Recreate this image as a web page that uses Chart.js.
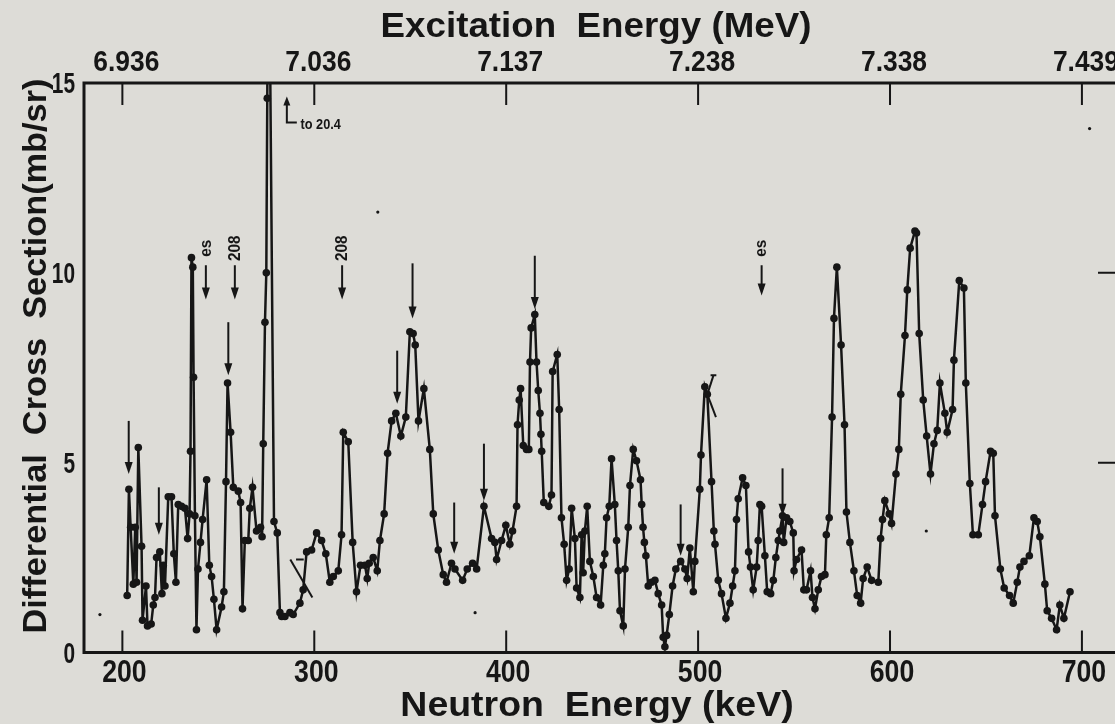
<!DOCTYPE html>
<html><head><meta charset="utf-8">
<script src="https://cdn.jsdelivr.net/npm/chart.js@4.4.0/dist/chart.umd.min.js"></script>
<style>
html,body{margin:0;padding:0;background:#dddcd7;overflow:hidden;width:1115px;height:724px;}
canvas{display:block;}
</style></head><body>
<canvas id="c" width="1130" height="724"></canvas>
<script>
// ---- data ----
const neutronEnergy = [
202.5,203.4,204.3,205.7,206.7,207.4,208.3,210.0,210.5,212.3,213.1,215.0,216.1,217.0,217.8,219.5,220.6,221.3,222.2,223.9,
225.6,226.8,227.9,229.1,230.8,232.6,234.0,235.0,235.5,236.0,236.7,237.1,237.8,238.6,239.4,240.7,241.8,243.9,245.3,246.5,
247.7,249.1,251.7,252.9,254.0,254.8,256.4,257.8,260.4,261.6,262.6,263.8,265.6,266.4,267.8,269.9,272.0,272.8,273.4,274.3,
275.0,275.5,276.2,279.0,280.7,282.1,283.0,284.7,287.3,289.0,292.5,294.2,296.0,298.6,301.2,303.8,306.0,308.1,309.9,312.5,
314.2,315.1,317.7,320.0,322.0,324.1,326.4,327.6,328.6,330.7,332.8,334.2,336.4,338.2,340.3,342.5,345.1,347.7,349.8,351.5,
352.6,354.3,357.1,360.2,362.0,364.6,367.2,368.9,371.5,373.3,377.3,379.7,382.5,384.6,388.4,392.4,394.1,395.0,397.6,399.8,
401.9,403.3,405.4,405.9,406.8,407.5,408.9,410.6,411.8,412.4,413.0,414.9,415.8,416.7,417.6,418.1,418.5,419.6,422.2,423.6,
424.2,426.6,427.6,428.8,430.2,431.5,432.8,434.1,435.8,436.7,438.4,439.3,440.1,441.0,442.2,443.6,445.4,447.1,449.2,450.6,
451.4,452.3,453.7,454.9,456.6,457.5,458.4,459.3,461.0,461.9,463.6,464.5,466.2,467.9,470.0,470.6,471.3,472.0,472.8,474.0,
475.7,477.5,479.2,481.0,481.8,482.7,483.6,485.0,486.7,488.4,490.9,493.1,494.3,495.7,497.5,498.3,500.9,501.5,503.5,504.8,
507.0,508.2,508.8,510.5,512.2,514.5,516.6,518.0,519.2,520.0,520.9,523.2,524.9,526.3,527.3,528.7,530.5,531.3,532.2,533.1,
534.8,536.0,537.8,539.2,540.5,541.8,542.6,544.0,544.6,546.1,547.8,549.6,550.0,551.3,553.9,555.1,556.5,558.6,559.6,560.9,
562.6,564.3,566.1,566.8,568.3,569.8,570.8,572.3,574.5,576.3,577.3,579.1,581.2,582.9,584.7,586.0,588.1,590.4,593.9,595.1,
596.1,597.3,599.6,600.8,603.1,604.6,605.6,607.8,609.0,610.5,613.0,613.8,615.2,617.3,619.1,621.1,622.9,624.6,626.0,628.6,
629.8,632.6,633.3,636.1,638.5,639.5,641.6,643.2,646.0,648.2,649.8,652.4,653.8,654.7,657.5,659.5,662.3,664.2,666.3,667.7,
669.8,672.6,675.0,676.7,678.1,680.7,681.9,684.2,686.8,688.5,690.6,693.8
];
const crossSection = [
1.5,4.3,3.3,1.8,3.3,1.85,5.4,2.8,0.85,1.75,0.7,0.75,1.25,1.45,2.5,2.65,1.55,2.3,1.75,4.1,
4.1,2.6,1.85,3.9,3.85,3.8,3.0,3.65,5.3,10.4,10.15,7.25,3.6,0.6,2.2,2.9,3.5,4.55,2.3,2.0,
1.4,0.6,1.2,1.6,4.5,7.1,5.8,4.35,4.25,3.95,1.15,2.95,2.95,3.8,4.35,3.2,3.3,3.05,5.5,8.7,
10.0,14.6,20.4,3.45,3.15,1.05,0.95,0.95,1.05,1.0,1.3,1.65,2.65,2.7,3.15,2.95,2.6,1.85,2.0,2.15,
3.1,5.8,5.55,2.9,1.6,2.3,2.3,1.95,2.35,2.5,2.15,2.95,3.65,5.25,6.1,6.3,5.7,6.2,8.45,8.4,
8.1,6.1,6.95,5.35,3.65,2.7,2.05,1.85,2.35,2.2,1.9,2.2,2.35,2.2,3.85,3.0,2.9,2.45,2.95,3.35,
2.85,3.2,3.85,6.0,6.65,6.95,5.45,5.35,5.35,7.65,8.55,8.9,7.65,6.9,6.3,5.75,5.3,3.95,3.85,4.15,
7.4,7.85,6.4,3.55,2.85,1.9,2.2,3.8,3.0,1.7,1.45,3.1,2.1,3.2,3.85,2.4,2.0,1.45,1.25,2.3,
2.6,3.55,3.85,5.1,3.9,2.95,2.15,1.1,0.7,2.2,3.3,4.4,5.35,5.05,4.55,3.9,3.3,2.9,2.55,1.75,
1.85,1.9,1.55,1.25,0.4,0.15,0.45,1.0,1.75,2.2,2.4,2.2,1.95,2.75,1.6,2.4,4.3,5.2,7.0,6.8,
4.5,3.2,2.85,1.9,1.55,0.9,1.3,1.75,2.15,3.5,4.05,4.6,4.4,2.65,2.25,1.65,2.25,2.95,3.9,3.85,
2.55,1.6,1.55,1.9,2.5,2.95,3.2,3.6,2.9,3.55,3.45,3.15,2.15,2.45,2.7,1.65,1.65,2.15,1.45,1.15,
1.65,2.0,2.05,3.1,3.55,6.2,8.8,10.15,8.1,6.0,3.7,2.9,2.15,1.5,1.3,1.95,2.25,1.9,1.85,3.0,
3.5,4.0,3.65,3.4,4.7,5.35,6.8,8.35,9.55,10.65,11.1,11.05,8.4,6.65,5.7,4.7,5.5,5.85,7.1,6.3,
5.8,6.4,7.7,9.8,9.6,7.1,4.45,3.1,3.1,3.9,4.5,5.3,5.25,3.6,2.2,1.7,1.5,1.3,1.85,2.25,
2.4,2.55,3.55,3.45,3.05,1.8,1.1,0.9,0.6,1.25,0.9,1.6
];
// tick labels
const neutronTicks = [200, 300, 400, 500, 600, 700];
const excitationLabels = ['6.936', '7.036', '7.137', '7.238', '7.338', '7.439'];
const sectionTicks = [0, 5, 10, 15];
// resonance markers: [keV, arrow top, arrow tip, label]
const markerEnergy = [203.3, 219.0, 243.5, 255.2, 258.6, 314.5, 343.2, 351.2, 372.9, 388.4, 414.9, 490.9, 533.1, 544.0];
const markerTop    = [6.1, 4.35, 10.2, 8.7, 10.2, 10.2, 7.95, 10.25, 3.95, 5.5, 10.45, 3.9, 10.2, 4.85];
const markerTip    = [4.7, 3.1, 9.3, 7.3, 9.3, 9.3, 6.55, 8.8, 2.6, 4.0, 9.05, 2.55, 9.4, 3.6];
const markerLabel  = ['', '', 'es', '', '208', '208', '', '', '', '', '', '', 'es', ''];
// off-scale note
const offScaleNote = {energy: 285.7, base: 13.96, top: 14.62, end: 290.9, textAt: 292.8, text: 'to 20.4'};
// small error-bar crosses drawn on the original
const crossA = [[504.8, 6.8], [508.0, 7.3]];
const crossACap = [[506.5, 7.3], [509.5, 7.3]];
const crossB = [[504.8, 6.8], [509.3, 6.2]];
const crossC = [[287.5, 2.45], [299.0, 1.45]];
const crossCCap = [[290.5, 2.45], [294.5, 2.45]];
// stray specks on the print
const speckEnergy = [188.3, 333.1, 383.8, 618.9, 704.0];
const speckValue  = [1.0, 11.6, 1.05, 3.2, 13.8];

const INK = '#161616';
const FONT = '"Liberation Sans", Arimo, Arial, sans-serif';

const pts = (xs, ys) => xs.map((v, i) => ({x: v, y: ys[i]}));
const pairs = a => a.map(p => ({x: p[0], y: p[1]}));

function txt(ctx, s, x, y, size, sx, align, baseline, rot) {
  ctx.save();
  ctx.translate(x, y);
  if (rot) ctx.rotate(rot);
  ctx.scale(sx, 1);
  ctx.font = 'bold ' + size + 'px ' + FONT;
  ctx.textAlign = align;
  ctx.textBaseline = baseline;
  ctx.fillStyle = INK;
  ctx.fillText(s, 0, 0);
  ctx.restore();
}

const decor = {
  id: 'decor',
  afterDatasetsDraw(chart) {
    const ctx = chart.ctx, a = chart.chartArea, x = chart.scales.x, y = chart.scales.y;
    ctx.save();
    ctx.strokeStyle = INK; ctx.fillStyle = INK; ctx.lineCap = 'butt';
    // frame
    ctx.lineWidth = 3;
    ctx.beginPath();
    ctx.moveTo(a.right, a.top); ctx.lineTo(a.left, a.top); ctx.lineTo(a.left, a.bottom); ctx.lineTo(a.right, a.bottom);
    ctx.moveTo(a.right, a.top); ctx.lineTo(a.right, a.bottom);
    ctx.stroke();
    // ticks
    ctx.lineWidth = 2;
    ctx.beginPath();
    neutronTicks.forEach(v => {
      const px = x.getPixelForValue(v);
      ctx.moveTo(px, a.bottom); ctx.lineTo(px, a.bottom - 22);
      ctx.moveTo(px, a.top); ctx.lineTo(px, a.top + 22);
    });
    [5, 10].forEach(v => {
      const py = y.getPixelForValue(v);
      ctx.moveTo(a.right, py); ctx.lineTo(a.right - 20, py);
    });
    ctx.stroke();
    // tick labels
    neutronTicks.forEach((v, i) => {
      const px = x.getPixelForValue(v);
      txt(ctx, String(v), px + 2, 673, 31, 0.86, 'center', 'middle');
      txt(ctx, excitationLabels[i], px + 4, 63, 30, 0.88, 'center', 'middle');
    });
    sectionTicks.forEach(v => {
      txt(ctx, String(v), 75, y.getPixelForValue(v) + 2, 29, 0.72, 'right', 'middle');
    });
    // titles
    txt(ctx, 'Excitation  Energy (MeV)', 596, 37, 35, 1.05, 'center', 'alphabetic');
    txt(ctx, 'Neutron  Energy (keV)', 597, 716, 35, 1.07, 'center', 'alphabetic');
    txt(ctx, 'Differential  Cross  Section(mb/sr)', 46, 356, 33, 1.04, 'center', 'alphabetic', -Math.PI / 2);
    // resonance arrows
    markerEnergy.forEach((e, i) => {
      const px = x.getPixelForValue(e);
      const y1 = y.getPixelForValue(markerTop[i]);
      const y2 = y.getPixelForValue(markerTip[i]);
      ctx.lineWidth = 2;
      ctx.beginPath(); ctx.moveTo(px, y1); ctx.lineTo(px, y2 - 8); ctx.stroke();
      ctx.beginPath(); ctx.moveTo(px - 4, y2 - 12); ctx.lineTo(px + 4, y2 - 12); ctx.lineTo(px, y2); ctx.closePath(); ctx.fill();
      if (markerLabel[i]) txt(ctx, markerLabel[i], px, y1 - 17, 17, 0.9, 'center', 'middle', -Math.PI / 2);
    });
    // off-scale note
    const nx = x.getPixelForValue(offScaleNote.energy);
    const nb = y.getPixelForValue(offScaleNote.base);
    const nt = y.getPixelForValue(offScaleNote.top);
    const ne = x.getPixelForValue(offScaleNote.end);
    ctx.lineWidth = 2;
    ctx.beginPath(); ctx.moveTo(ne, nb); ctx.lineTo(nx, nb); ctx.lineTo(nx, nt + 6); ctx.stroke();
    ctx.beginPath(); ctx.moveTo(nx - 3.5, nt + 8); ctx.lineTo(nx + 3.5, nt + 8); ctx.lineTo(nx, nt - 1); ctx.closePath(); ctx.fill();
    txt(ctx, offScaleNote.text, x.getPixelForValue(offScaleNote.textAt), nb + 2, 15, 0.85, 'left', 'middle');
    ctx.restore();
  }
};

const lineSet = (data, w) => ({data, showLine: true, borderColor: INK, borderWidth: w, pointRadius: 0, fill: false});

new Chart(document.getElementById('c'), {
  type: 'scatter',
  data: {
    datasets: [
      {data: pts(neutronEnergy, crossSection), showLine: true, borderColor: INK, borderWidth: 2.5,
       pointRadius: 3.8, pointBackgroundColor: INK, pointBorderWidth: 0, tension: 0,
       clip: {left: 6, top: 0, right: 6, bottom: 6}},
      lineSet(pairs(crossA), 2), lineSet(pairs(crossACap), 2), lineSet(pairs(crossB), 2),
      lineSet(pairs(crossC), 2), lineSet(pairs(crossCCap), 2),
      {data: pts(speckEnergy, speckValue), showLine: false, pointRadius: 1.6, pointBackgroundColor: INK, pointBorderWidth: 0}
    ]
  },
  options: {
    responsive: false, animation: false, devicePixelRatio: 1,
    layout: {padding: {left: 84, top: 83, right: 12, bottom: 71.5}},
    plugins: {legend: {display: false}, tooltip: {enabled: false}},
    scales: {
      x: {type: 'linear', min: 180, max: 718.8, display: false},
      y: {type: 'linear', min: 0, max: 15, display: false}
    }
  },
  plugins: [decor]
});
</script>
</body></html>
